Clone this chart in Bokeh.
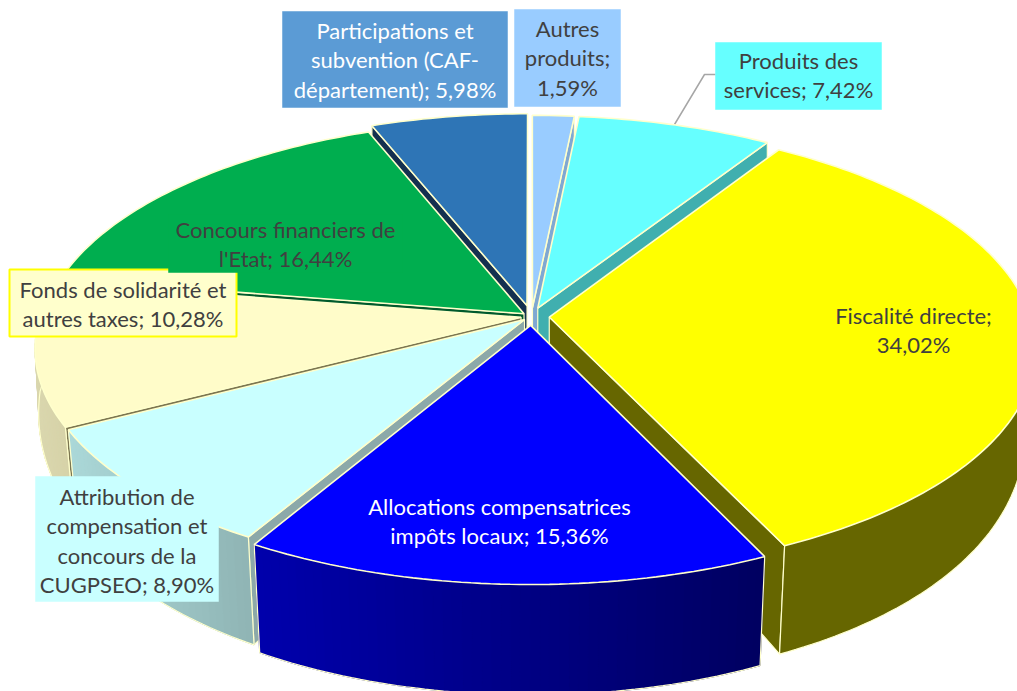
import math
from bokeh.plotting import figure
from bokeh.core.properties import value
from bokeh.embed import file_html
from bokeh.resources import INLINE

# --- data (clockwise from the top) ---
names = ["Autres produits", "Produits des services", "Fiscalité directe",
         "Allocations compensatrices impôts locaux",
         "Attribution de compensation et concours de la CUGPSEO",
         "Fonds de solidarité et autres taxes",
         "Concours financiers de l'Etat",
         "Participations et subvention (CAF-département)"]
values = [1.59, 7.42, 34.02, 15.36, 8.90, 10.28, 16.44, 5.98]
value_texts = ["1,59%", "7,42%", "34,02%", "15,36%", "8,90%", "10,28%", "16,44%", "5,98%"]
label_lines = [
    ["Autres", "produits;", "{v}"],
    ["Produits des", "services; {v}"],
    ["Fiscalité directe;", "{v}"],
    ["Allocations compensatrices", "impôts locaux; {v}"],
    ["Attribution de", "compensation et", "concours de la", "CUGPSEO; {v}"],
    ["Fonds de solidarité et", "autres taxes; {v}"],
    ["Concours financiers de", "l'Etat; {v}"],
    ["Participations et", "subvention (CAF-", "département); {v}"],
]

# --- style ---
top_colors = ["#99CCFF", "#66FFFF", "#FFFF00", "#0000FF", "#C9FFFF", "#FFFCC9", "#00AE4F", "#2E75B6"]
wall_left = ["#7FA8D2", "#4CBFBF", "#666600", "#0000AC", "#ABD8D8", "#DAD7AE", "#007A38", "#1F4E79"]
wall_right = ["#7FA8D2", "#4CBFBF", "#666600", "#000060", "#8FB4B4", "#D6D2A8", "#007A38", "#1F4E79"]
cut_colors = ["#7FA8D2", "#40AFAF", "#666600", "#000080", "#8CA9A9", "#7C7650", "#005A2C", "#14304F"]
explode = [0.04, 0.04, 0.037, 0.04, 0.02, 0.022, 0.02, 0.05]
draw_order = [0, 1, 7, 6, 2, 5, 4, 3]
label_fill = ["#99CCFF", "#66FFFF", "#FFFF00", "#0000FF", "#C9FFFF", "#FFFFCC", "#00AE4F", "#5B9BD5"]
label_box = [(514, 620, 9, 106), (715, 881, 42, 109), (825, 1001, 303, 361), (290, 708, 495, 550),
             (35, 218, 476, 601), (9, 236, 269, 336), (168, 402, 214, 272), (282, 507, 11, 107)]
label_y = [27.5, 59.5, 314.5, 505.5, 495.5, 288.5, 228.5, 29.5]
label_color = ["#404040", "#404040", "#404040", "#FFFFFF", "#404040", "#404040", "#404040", "#FFFFFF"]
label_border = [None, None, None, None, None, "#FFFF00", None, None]
LINE_H = 29.5
FONT = "Lato"
FONT_SIZE = "22px"
OUT = "#FFFFCC"

CX, CY, X, A, K = 531, 316, 481, 221, 0.137


def proj(u, v, low=False):
    d = 1 - K * v
    x, y = CX + X * u / d, CY + A * v / d
    if low:
        s = 0.98 + 0.02 * min(1.0, max(0.0, 1 - v / 0.3))
        depth = 75 + 60 * v - 20 * v * v if v >= 0 else 75 + 30 * v
        x, y = CX + s * (x - CX), CY + s * (y - CY) + depth
    return x, y


def pt(i, a, r=1.0, low=False):
    b = bis[i]
    u = explode[i] * math.sin(b) + r * math.sin(a)
    v = -explode[i] * math.cos(b) - r * math.cos(a)
    return proj(u, v, low)


def mix(c1, c2, t):
    t = max(0.0, min(1.0, t))
    a = [int(c1[j:j + 2], 16) for j in (1, 3, 5)]
    b = [int(c2[j:j + 2], 16) for j in (1, 3, 5)]
    return "#%02X%02X%02X" % tuple(round(p + (q - p) * t) for p, q in zip(a, b))


total = sum(values)
edges = [0.0]
for val in values:
    edges.append(edges[-1] + val / total * 2 * math.pi)
bis = [(edges[i] + edges[i + 1]) / 2 for i in range(len(values))]

p = figure(width=1017, height=691, x_range=(0, 1017), y_range=(691, 0),
           output_backend="svg", toolbar_location=None, min_border=0)
p.axis.visible = False
p.grid.visible = False
p.outline_line_color = None
p.background_fill_color = "#FFFFFF"
p.border_fill_color = "#FFFFFF"

# leader of "Produits des services"
LEADER = ([715, 704, 674], [74, 74, 124])


def draw_slice(i):
    a0, a1 = edges[i], edges[i + 1]
    n = max(4, int((a1 - a0) / math.radians(1)))
    angs = [a0 + (a1 - a0) * j / n for j in range(n + 1)]
    # radial cut walls that face the viewer
    for a, vis in ((a0, math.sin(a0) < -1e-6), (a1, math.sin(a1) > 1e-6)):
        if vis:
            q = [pt(i, 0, 0), pt(i, a), pt(i, a, low=True), pt(i, 0, 0, low=True)]
            p.patch([c[0] for c in q], [c[1] for c in q], fill_color=cut_colors[i],
                    line_color=OUT, line_width=1.2)
    # outer wall, only where it faces the viewer
    top = [pt(i, a) for a in angs]
    low = [pt(i, a, low=True) for a in angs]
    front = [j for j, a in enumerate(angs) if -math.cos(a) > -0.15]
    if front:
        f0, f1 = front[0], front[-1]
        ftop, flow = top[f0:f1 + 1], low[f0:f1 + 1]
        wx = [c[0] for c in ftop] + [c[0] for c in reversed(flow)]
        wy = [c[1] for c in ftop] + [c[1] for c in reversed(flow)]
        xmin, xmax = min(c[0] for c in ftop), max(c[0] for c in ftop)
        p.patch(wx, wy, fill_color=mix(wall_left[i], wall_right[i], 0.5), line_color=None)
        if wall_left[i] != wall_right[i]:
            xs, ys, cols = [], [], []
            for j in range(len(ftop) - 1):
                xs.append([ftop[j][0], ftop[j + 1][0], flow[j + 1][0], flow[j][0]])
                ys.append([ftop[j][1], ftop[j + 1][1], flow[j + 1][1], flow[j][1]])
                cols.append(mix(wall_left[i], wall_right[i],
                                ((ftop[j][0] + ftop[j + 1][0]) / 2 - xmin) / max(xmax - xmin, 1)))
            p.patches(xs, ys, fill_color=cols, line_color=cols, line_width=1.0)
        ox = [ftop[0][0]] + [c[0] for c in flow] + [ftop[-1][0]]
        oy = [ftop[0][1]] + [c[1] for c in flow] + [ftop[-1][1]]
        p.line(ox, oy, line_color=OUT, line_width=1.2)
    # top face
    apex = pt(i, 0, 0)
    p.patch([apex[0]] + [c[0] for c in top], [apex[1]] + [c[1] for c in top],
            fill_color=top_colors[i], line_color=OUT, line_width=1.6)


for pos, i in enumerate(draw_order):
    if i == 1:
        p.line(LEADER[0], LEADER[1], line_color="#A6A6A6", line_width=1.5)
    draw_slice(i)

# labels
for i in range(len(values)):
    x0, x1, y0, y1 = label_box[i]
    if i != 3:
        p.quad(left=x0, right=x1, top=y0, bottom=y1, fill_color=label_fill[i],
               line_color=label_border[i] or label_fill[i],
               line_width=2 if label_border[i] else 0.5)
    for j, line in enumerate(label_lines[i]):
        p.text([(x0 + x1) / 2], [label_y[i] + j * LINE_H], text=[line.format(v=value_texts[i])],
               text_color=label_color[i], text_font=value(FONT), text_font_size=FONT_SIZE,
               text_align="center", text_baseline="middle")

open("out.html", "w").write(file_html(p, INLINE))
